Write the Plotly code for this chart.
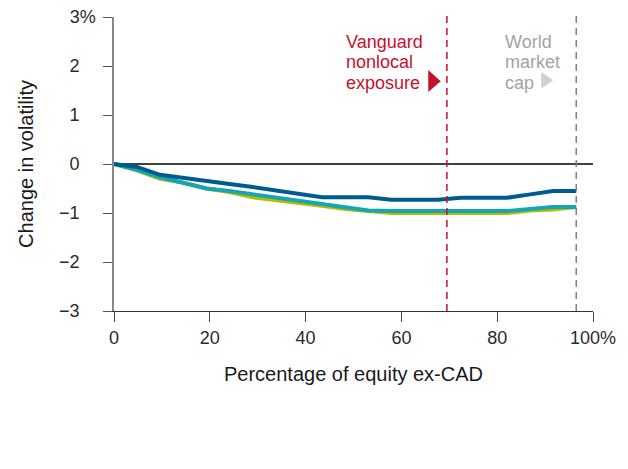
import plotly.graph_objects as go

# Share of equity held outside Canada (%), sampled in equal steps up to world market cap
equity_ex_cad = [0, 4.8, 9.6, 14.5, 19.3, 24.1, 29.0, 33.8, 38.6, 43.4, 48.3,
                 53.1, 57.9, 62.7, 67.6, 72.4, 77.2, 82.0, 86.9, 91.7, 96.5]

# Change in portfolio volatility (percentage points)
series_blue = [0, -0.06, -0.22, -0.29, -0.35, -0.41, -0.47, -0.54, -0.61, -0.68, -0.68,
               -0.68, -0.73, -0.73, -0.73, -0.69, -0.69, -0.69, -0.62, -0.55, -0.55]
series_teal = [0, -0.12, -0.27, -0.38, -0.50, -0.55, -0.62, -0.69, -0.75, -0.81, -0.88,
               -0.95, -0.96, -0.96, -0.96, -0.96, -0.96, -0.96, -0.92, -0.88, -0.88]
series_lime = [0, -0.13, -0.30, -0.38, -0.50, -0.57, -0.68, -0.73, -0.79, -0.85, -0.92,
               -0.95, -1.00, -1.00, -1.00, -1.00, -1.00, -1.00, -0.95, -0.93, -0.88]

vanguard_nonlocal = 69.5
world_market_cap = 96.5

vanguard_label = ["Vanguard", "nonlocal", "exposure"]
market_label = ["World", "market", "cap"]

HIDDEN_PCT = '<span style="color:rgba(0,0,0,0)">%</span>'
x_ticks = [0, 20, 40, 60, 80, 100]
x_tick_text = ["0", "20", "40", "60", "80", "100%"]
y_ticks = [-3, -2, -1, 0, 1, 2, 3]
y_tick_text = ["\u22123" + HIDDEN_PCT, "\u22122" + HIDDEN_PCT, "\u22121" + HIDDEN_PCT,
               "0" + HIDDEN_PCT, "1" + HIDDEN_PCT, "2" + HIDDEN_PCT, "3%"]

RED = "#c8102e"
GREY_TXT = "#a3a3a3"
FONT = "Liberation Sans"
FS = 18
TITLE_FS = 20
TEXT_COL = "#2a2a2a"

fig = go.Figure()
for vals, col in [(series_lime, "#b4bd00"), (series_teal, "#16a6b3"), (series_blue, "#005b8e")]:
    fig.add_trace(go.Scatter(x=equity_ex_cad, y=vals, mode="lines",
                             line=dict(color=col, width=4), showlegend=False,
                             hoverinfo="skip"))

# Zero reference line
fig.add_shape(type="line", xref="x", yref="y", x0=0, x1=100, y0=0, y1=0,
              line=dict(color="#000000", width=1.5), layer="below")
# Vertical markers
fig.add_shape(type="line", xref="x", yref="paper", x0=vanguard_nonlocal, x1=vanguard_nonlocal,
              y0=0, y1=1.01, line=dict(color=RED, width=1.5, dash="7px,5px"))
fig.add_shape(type="line", xref="x", yref="paper", x0=world_market_cap, x1=world_market_cap,
              y0=0, y1=1.01, line=dict(color="#7f7f7f", width=1.5, dash="7px,5px"))

# Pointer triangles
fig.add_shape(type="path", xref="x", yref="y",
              path="M 65.6 1.92 L 68.2 1.69 L 65.6 1.47 Z",
              fillcolor=RED, line=dict(width=0))
fig.add_shape(type="path", xref="x", yref="y",
              path="M 89.2 1.88 L 91.7 1.71 L 89.2 1.54 Z",
              fillcolor="#cfcfcf", line=dict(width=0))

# Marker labels, one line per annotation for a tight leading
line_y = [2.49, 2.08, 1.66]
for txt, yy in zip(vanguard_label, line_y):
    fig.add_annotation(x=48.0, y=yy, xref="x", yref="y", xanchor="left", yanchor="middle",
                       text=txt, showarrow=False,
                       font=dict(family=FONT, size=FS, color=RED))
for txt, yy in zip(market_label, line_y):
    fig.add_annotation(x=81.2, y=yy, xref="x", yref="y", xanchor="left", yanchor="middle",
                       text=txt, showarrow=False,
                       font=dict(family=FONT, size=FS, color=GREY_TXT))

fig.update_layout(
    width=628, height=469,
    margin=dict(l=114, r=35, t=17, b=158),
    paper_bgcolor="white", plot_bgcolor="white",
    font=dict(family=FONT, size=FS, color=TEXT_COL),
    xaxis=dict(range=[0, 100], tickvals=x_ticks, ticktext=x_tick_text,
               ticks="outside", ticklen=10, tickwidth=1, tickcolor="#444444",
               showline=True, linecolor="#333333", linewidth=1,
               showgrid=False, zeroline=False, automargin=False,
               tickfont=dict(size=FS, color=TEXT_COL),
               title=dict(text="Percentage of equity ex-CAD", standoff=20,
                          font=dict(size=TITLE_FS, color="#1a1a1a"))),
    yaxis=dict(range=[-3, 3], tickvals=y_ticks, ticktext=y_tick_text,
               ticks="outside", ticklen=9, tickwidth=1, tickcolor="#555555",
               showline=True, linecolor="#888888", linewidth=1.5,
               showgrid=False, zeroline=False, ticklabelstandoff=4, automargin=False,
               tickfont=dict(size=FS, color=TEXT_COL),
               title=dict(text="Change in volatility", standoff=20,
                          font=dict(size=TITLE_FS, color="#1a1a1a"))),
)

fig.write_html("out.html")
